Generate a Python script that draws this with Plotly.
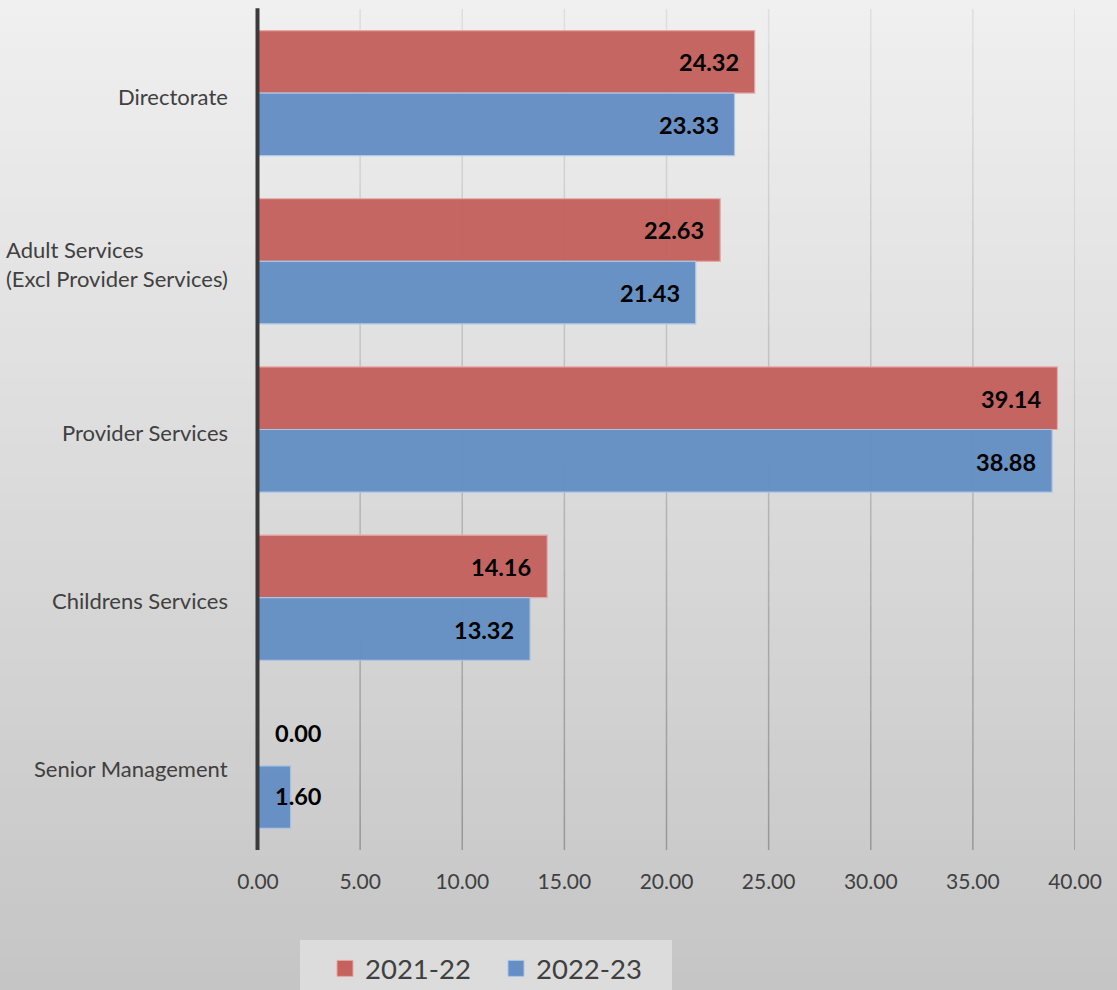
import plotly.graph_objects as go

categories = ["Directorate", "Adult Services<br>(Excl Provider Services)", "Provider Services",
              "Childrens Services", "Senior Management"]
series_names = ["2021-22", "2022-23"]
values_2021_22 = [24.32, 22.63, 39.14, 14.16, 0.00]
values_2022_23 = [23.33, 21.43, 38.88, 13.32, 1.60]
x_ticks = [0, 5, 10, 15, 20, 25, 30, 35, 40]

FONT = "Lato"
W, H = 1117, 990
L, R, T, B = 258, 42, 9, 140
PW = W - L - R
PH = H - T - B

fig = go.Figure()
colors = ["#c5625e", "#658fc4"]
edges = ["#e9a6a3", "#a9c5ea"]
for name, vals, c, e in zip(series_names, [values_2021_22, values_2022_23], colors, edges):
    fig.add_trace(go.Bar(
        y=categories, x=vals, name=name, orientation="h",
        marker=dict(color=c, line=dict(color=e, width=1.2)),
        opacity=0.97, showlegend=False,
    ))
# legend-only entries with larger square symbols
for name, c, e in zip(series_names, colors, edges):
    fig.add_trace(go.Scatter(
        x=[None], y=[None], mode="markers", name=name,
        marker=dict(symbol="square", size=17, color=c, line=dict(color=e, width=1)),
    ))

shapes = []
# background vertical gradient
N = 60
top_c, bot_c = 240, 197
for i in range(N):
    y0 = 1 + T / PH - (i) * (H / PH) / N
    y1 = 1 + T / PH - (i + 1) * (H / PH) / N
    g = round(top_c + (bot_c - top_c) * (i + 0.5) / N)
    shapes.append(dict(type="rect", xref="paper", yref="paper", x0=-L / PW, x1=1 + R / PW,
                       y0=y1 - 0.01 * (i == N - 1), y1=y0 + 0.002,
                       fillcolor=f"rgb({g},{g},{g})", line=dict(width=0), layer="below"))
# legend box
shapes.append(dict(type="rect", xref="paper", yref="paper",
                   x0=(300 - L) / PW, x1=(672 - L) / PW,
                   y0=-(H + 10 - T - PH) / PH, y1=-(940 - T - PH) / PH,
                   fillcolor="#dcdcdc", line=dict(width=0), layer="below"))
# gridlines with gradient
M = 24
for tv in x_ticks[1:]:
    for j in range(M):
        g = round(224 + (150 - 224) * (j + 0.5) / M)
        shapes.append(dict(type="line", xref="x", yref="paper", x0=tv, x1=tv,
                           y0=1 - j / M, y1=1 - (j + 1) / M,
                           line=dict(color=f"rgb({g},{g},{g})", width=1.5), layer="below"))
# thick axis line at 0
shapes.append(dict(type="line", xref="paper", yref="paper", x0=-0.5 / PW, x1=-0.5 / PW,
                   y0=0, y1=1.001, line=dict(color="#3a3a3a", width=4), layer="above"))

annotations = []
# category labels
for cat in categories:
    annotations.append(dict(text=cat, x=-28 / PW, xref="paper", y=cat, yref="y",
                            xanchor="right", yanchor="middle", align="left", showarrow=False,
                            yshift=-3,
                            font=dict(family=FONT, size=22, color="#404040")))
# data labels
for k, vals in enumerate([values_2021_22, values_2022_23]):
    shift = 31 if k == 0 else -32
    for cat, v in zip(categories, vals):
        if v < 3:
            annotations.append(dict(text=f"<b>{v:.2f}</b>", x=0, xref="x", y=cat, yref="y",
                                    xanchor="left", xshift=15, yshift=shift + 2, showarrow=False,
                                    font=dict(family=FONT, size=23.5, color="#000000")))
        else:
            annotations.append(dict(text=f"<b>{v:.2f}</b>", x=v, xref="x", y=cat, yref="y",
                                    xanchor="right", xshift=-14, yshift=shift, showarrow=False,
                                    font=dict(family=FONT, size=23.5, color="#000000")))

fig.update_layout(
    width=W, height=H,
    margin=dict(l=L, r=R, t=T, b=B, pad=0, autoexpand=False),
    paper_bgcolor="#c6c6c6", plot_bgcolor="rgba(0,0,0,0)",
    barmode="group", bargap=0.256, bargroupgap=0.0,
    shapes=shapes, annotations=annotations,
    xaxis=dict(range=[0, 40], tickvals=x_ticks, ticktext=[f"{t:.2f}" for t in x_ticks],
               showgrid=False, zeroline=False, showline=False, ticks="",
               ticklabelstandoff=17,
               tickfont=dict(family=FONT, size=21, color="#404040")),
    yaxis=dict(autorange="reversed", showticklabels=False, showgrid=False, zeroline=False,
               showline=False, ticks=""),
    legend=dict(orientation="h", x=(325 - L) / PW, xanchor="left",
                y=-(944 - T - PH) / PH, yanchor="top", bgcolor="rgba(0,0,0,0)",
                font=dict(family=FONT, size=27.5, color="#404040"),
                itemwidth=30, entrywidth=126, entrywidthmode="pixels",
                itemsizing="trace", traceorder="normal"),
    font=dict(family=FONT),
)

fig.write_html("out.html", config={"displayModeBar": False},
               post_script="document.body.style.margin='0';")
